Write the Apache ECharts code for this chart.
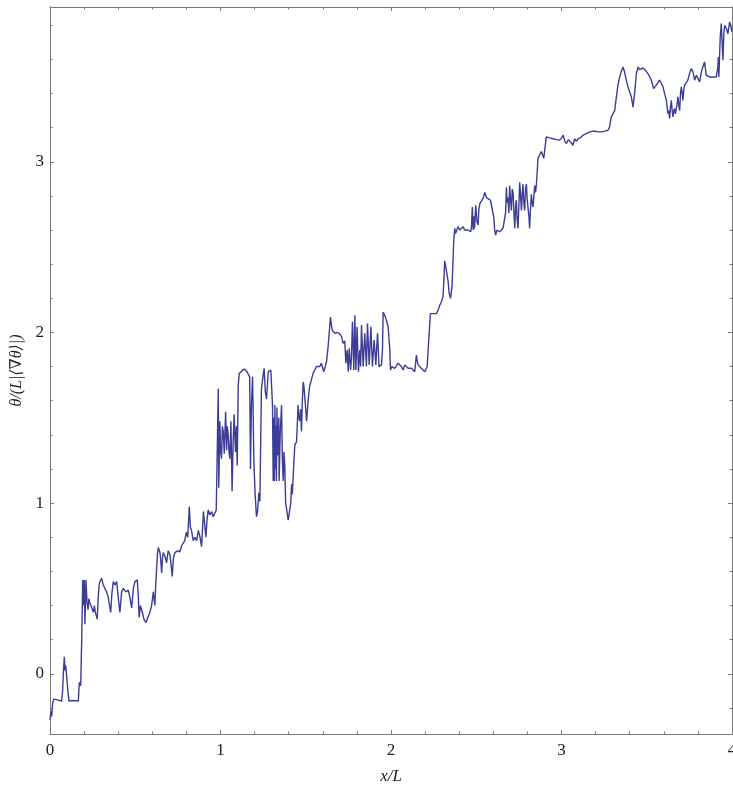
<!DOCTYPE html>
<html lang="en">
<head>
    <meta charset="UTF-8">
    <title>theta profile</title>
    <script src="https://cdn.jsdelivr.net/npm/echarts@6/dist/echarts.min.js"></script>
    <style>
        html, body { margin: 0; padding: 0; background: #fff; }
        #main { width: 733px; height: 787px; }
    </style>
</head>
<body>
    <div id="main"></div>
    <script>
        // trace, [x/L, theta/(L|<grad theta>|)], split in four stretches
        const segStart = [
            [0.000, -0.27], [0.006, -0.22], [0.010, -0.25], [0.016, -0.17], [0.022, -0.15],
            [0.035, -0.15], [0.050, -0.155], [0.068, -0.16], [0.074, -0.10], [0.078, 0.00],
            [0.084, 0.10], [0.088, 0.02], [0.092, 0.05], [0.098, 0.04], [0.104, -0.09],
            [0.111, -0.16], [0.136, -0.157], [0.166, -0.16], [0.172, -0.05], [0.180, -0.07],
            [0.186, 0.20], [0.192, 0.55], [0.197, 0.40], [0.201, 0.55], [0.205, 0.29],
            [0.211, 0.55], [0.217, 0.42], [0.223, 0.375], [0.228, 0.44], [0.234, 0.415],
            [0.244, 0.39], [0.254, 0.36], [0.260, 0.40], [0.266, 0.36], [0.277, 0.32],
            [0.283, 0.45], [0.289, 0.53], [0.303, 0.56], [0.312, 0.52], [0.322, 0.53],
            [0.332, 0.48], [0.342, 0.445], [0.349, 0.40], [0.356, 0.36], [0.363, 0.47],
            [0.371, 0.54], [0.381, 0.52], [0.391, 0.54], [0.400, 0.45], [0.410, 0.36],
            [0.420, 0.48], [0.430, 0.50], [0.445, 0.48], [0.459, 0.49], [0.468, 0.45],
            [0.479, 0.385], [0.489, 0.50], [0.498, 0.54], [0.512, 0.55], [0.518, 0.45],
            [0.523, 0.33], [0.530, 0.40], [0.537, 0.39], [0.544, 0.35], [0.551, 0.32],
            [0.563, 0.30], [0.576, 0.335], [0.586, 0.36], [0.596, 0.40], [0.606, 0.48],
            [0.615, 0.40], [0.620, 0.52], [0.625, 0.61], [0.630, 0.70], [0.635, 0.74],
            [0.645, 0.71], [0.650, 0.66], [0.655, 0.59], [0.660, 0.68], [0.664, 0.71],
            [0.674, 0.69], [0.684, 0.65], [0.693, 0.72], [0.703, 0.70], [0.710, 0.64],
            [0.717, 0.57], [0.724, 0.68], [0.733, 0.71], [0.748, 0.72], [0.762, 0.715],
            [0.772, 0.75], [0.780, 0.74], [0.790, 0.78], [0.800, 0.83], [0.808, 0.80],
            [0.817, 0.98], [0.823, 0.86], [0.830, 0.84], [0.840, 0.78], [0.850, 0.80],
            [0.860, 0.78], [0.870, 0.84], [0.880, 0.80], [0.889, 0.745], [0.900, 0.95],
            [0.907, 0.88], [0.914, 0.80], [0.921, 0.90], [0.928, 0.96], [0.938, 0.93],
            [0.948, 0.95], [0.957, 0.92], [0.967, 0.93], [0.975, 0.96]
        ]
        const segJumps = [
            [0.987, 1.67], [0.990, 1.09], [0.996, 1.48], [1.001, 1.30], [1.006, 1.26],
            [1.011, 1.45], [1.016, 1.42], [1.022, 1.29], [1.030, 1.535], [1.036, 1.31],
            [1.040, 1.45], [1.045, 1.40], [1.050, 1.30], [1.055, 1.26], [1.061, 1.48],
            [1.068, 1.07], [1.074, 1.35], [1.080, 1.52], [1.084, 1.40], [1.088, 1.30],
            [1.093, 1.45], [1.098, 1.22], [1.104, 1.69], [1.110, 1.76], [1.120, 1.77],
            [1.130, 1.78], [1.143, 1.785], [1.155, 1.77], [1.165, 1.77], [1.171, 1.74],
            [1.176, 1.20], [1.181, 1.56], [1.188, 1.74], [1.196, 1.24], [1.203, 1.05],
            [1.211, 0.92], [1.217, 0.95], [1.225, 1.06], [1.231, 1.01], [1.240, 1.67],
            [1.250, 1.75], [1.256, 1.79], [1.263, 1.65], [1.270, 1.61], [1.280, 1.77],
            [1.295, 1.78], [1.305, 1.575], [1.309, 1.13], [1.313, 1.50], [1.316, 1.13],
            [1.319, 1.575], [1.322, 1.20], [1.325, 1.45], [1.328, 1.13], [1.331, 1.56],
            [1.335, 1.30], [1.338, 1.28], [1.342, 1.50], [1.344, 1.13], [1.350, 1.40],
            [1.358, 1.575], [1.363, 1.25], [1.368, 1.13], [1.372, 1.30], [1.377, 1.22],
            [1.382, 1.00], [1.387, 0.97], [1.397, 0.90], [1.407, 0.91], [1.412, 1.00],
            [1.417, 1.11], [1.421, 1.05], [1.426, 1.05], [1.431, 1.25], [1.436, 1.34],
            [1.446, 1.36], [1.450, 1.45], [1.455, 1.575], [1.460, 1.50], [1.465, 1.48],
            [1.470, 1.55], [1.475, 1.42], [1.480, 1.60], [1.485, 1.71], [1.490, 1.68],
            [1.495, 1.61], [1.500, 1.55], [1.505, 1.48], [1.514, 1.60], [1.522, 1.68],
            [1.530, 1.71], [1.543, 1.76], [1.553, 1.78], [1.563, 1.80], [1.573, 1.81],
            [1.583, 1.80], [1.592, 1.82], [1.600, 1.79], [1.606, 1.77], [1.614, 1.80],
            [1.622, 1.83], [1.631, 1.915]
        ]
        const segMiddle = [
            [1.645, 2.09], [1.651, 2.04], [1.657, 2.01], [1.671, 1.995], [1.684, 2.00],
            [1.696, 1.995], [1.710, 1.975], [1.719, 1.936], [1.729, 1.95], [1.735, 1.82],
            [1.743, 1.897], [1.749, 1.77], [1.755, 1.907], [1.763, 1.78], [1.768, 1.85],
            [1.774, 2.063], [1.782, 1.78], [1.788, 2.10], [1.794, 1.78], [1.801, 2.033],
            [1.809, 1.77], [1.817, 1.897], [1.822, 1.80], [1.827, 2.043], [1.837, 1.80],
            [1.846, 1.995], [1.856, 1.80], [1.862, 2.053], [1.872, 1.81], [1.882, 2.033],
            [1.891, 1.80], [1.901, 1.956], [1.911, 1.81], [1.921, 1.995], [1.930, 1.80],
            [1.944, 1.81], [1.950, 1.90], [1.954, 2.12], [1.964, 2.10], [1.973, 2.07],
            [1.983, 2.035], [1.993, 1.90], [1.997, 1.78], [2.005, 1.80], [2.012, 1.81],
            [2.022, 1.79], [2.032, 1.80], [2.042, 1.82], [2.052, 1.81], [2.061, 1.80],
            [2.071, 1.78], [2.081, 1.81], [2.091, 1.80], [2.100, 1.79], [2.110, 1.80],
            [2.120, 1.79], [2.130, 1.78], [2.139, 1.77], [2.149, 1.868], [2.154, 1.83],
            [2.159, 1.81], [2.169, 1.80], [2.178, 1.79], [2.188, 1.785], [2.198, 1.77],
            [2.212, 1.80], [2.218, 1.90], [2.224, 1.995], [2.231, 2.11], [2.240, 2.10],
            [2.247, 2.11], [2.256, 2.12], [2.266, 2.11], [2.276, 2.13], [2.286, 2.16],
            [2.296, 2.18], [2.305, 2.21], [2.310, 2.30], [2.315, 2.42], [2.322, 2.38],
            [2.329, 2.385], [2.335, 2.30], [2.341, 2.23], [2.349, 2.20], [2.358, 2.27],
            [2.363, 2.40], [2.368, 2.54], [2.374, 2.61], [2.379, 2.58], [2.384, 2.59],
            [2.393, 2.62], [2.403, 2.60], [2.413, 2.61], [2.423, 2.62], [2.432, 2.60],
            [2.442, 2.61], [2.452, 2.60], [2.462, 2.61], [2.468, 2.59], [2.472, 2.62],
            [2.477, 2.735], [2.482, 2.60], [2.485, 2.68], [2.490, 2.61], [2.497, 2.745],
            [2.504, 2.65], [2.511, 2.63], [2.515, 2.72], [2.521, 2.755], [2.530, 2.76],
            [2.540, 2.785], [2.550, 2.82], [2.560, 2.79], [2.570, 2.80], [2.583, 2.775],
            [2.595, 2.715], [2.603, 2.675], [2.608, 2.60], [2.614, 2.57], [2.620, 2.60],
            [2.628, 2.61], [2.637, 2.59], [2.647, 2.59], [2.657, 2.61], [2.667, 2.60],
            [2.672, 2.70], [2.677, 2.85], [2.681, 2.76], [2.686, 2.79], [2.691, 2.70],
            [2.696, 2.86], [2.701, 2.78], [2.706, 2.715], [2.711, 2.84], [2.716, 2.82],
            [2.721, 2.70], [2.726, 2.61], [2.731, 2.74], [2.735, 2.775], [2.740, 2.66],
            [2.745, 2.61], [2.750, 2.75], [2.755, 2.88], [2.760, 2.80], [2.765, 2.715],
            [2.770, 2.82], [2.774, 2.87], [2.779, 2.76], [2.784, 2.715], [2.789, 2.84],
            [2.794, 2.87], [2.799, 2.78], [2.804, 2.725], [2.809, 2.68], [2.813, 2.61],
            [2.818, 2.72], [2.823, 2.81], [2.828, 2.76], [2.833, 2.735], [2.838, 2.80],
            [2.843, 2.86], [2.848, 2.82], [2.853, 2.87], [2.858, 2.95]
        ]
        const segEnd = [
            [2.862, 3.02], [2.872, 3.03], [2.882, 3.06], [2.889, 3.04], [2.896, 3.02],
            [2.903, 3.08], [2.911, 3.146], [2.930, 3.14], [2.950, 3.135], [2.970, 3.13],
            [2.989, 3.127], [3.000, 3.14], [3.009, 3.156], [3.020, 3.12], [3.029, 3.107],
            [3.040, 3.13], [3.048, 3.127], [3.058, 3.11], [3.067, 3.097], [3.077, 3.136],
            [3.087, 3.12], [3.097, 3.136], [3.110, 3.14], [3.126, 3.156], [3.145, 3.165],
            [3.165, 3.175], [3.180, 3.178], [3.195, 3.18], [3.215, 3.176], [3.234, 3.175],
            [3.255, 3.18], [3.273, 3.185], [3.282, 3.204], [3.292, 3.263], [3.302, 3.273],
            [3.312, 3.30], [3.322, 3.38], [3.331, 3.449], [3.341, 3.497], [3.351, 3.53],
            [3.361, 3.556], [3.370, 3.526], [3.380, 3.478], [3.390, 3.439], [3.400, 3.429],
            [3.410, 3.38], [3.419, 3.32], [3.429, 3.40], [3.439, 3.517], [3.449, 3.556],
            [3.458, 3.54], [3.468, 3.536], [3.478, 3.55], [3.488, 3.546], [3.497, 3.53],
            [3.507, 3.517], [3.517, 3.50], [3.527, 3.478], [3.540, 3.429], [3.556, 3.449],
            [3.565, 3.46], [3.575, 3.478], [3.585, 3.46], [3.595, 3.439], [3.605, 3.429],
            [3.615, 3.36], [3.624, 3.283], [3.629, 3.30], [3.634, 3.254], [3.639, 3.32],
            [3.644, 3.36], [3.649, 3.30], [3.654, 3.263], [3.659, 3.30], [3.664, 3.312],
            [3.668, 3.28], [3.673, 3.273], [3.678, 3.34], [3.683, 3.38], [3.688, 3.33],
            [3.693, 3.30], [3.698, 3.40], [3.703, 3.439], [3.708, 3.40], [3.712, 3.36],
            [3.717, 3.42], [3.722, 3.449], [3.732, 3.459], [3.741, 3.478], [3.751, 3.517],
            [3.761, 3.546], [3.771, 3.526], [3.781, 3.478], [3.791, 3.507], [3.800, 3.517],
            [3.810, 3.468], [3.820, 3.526], [3.829, 3.556], [3.839, 3.585], [3.849, 3.507],
            [3.859, 3.50], [3.869, 3.497], [3.888, 3.497], [3.908, 3.497], [3.913, 3.53],
            [3.917, 3.556], [3.920, 3.614], [3.923, 3.497], [3.928, 3.65], [3.931, 3.73],
            [3.937, 3.81], [3.942, 3.70], [3.947, 3.595], [3.952, 3.75], [3.957, 3.80],
            [3.962, 3.79], [3.967, 3.78], [3.976, 3.75], [3.986, 3.82], [3.992, 3.80],
            [4.000, 3.76]
        ]
        const xTicks = [0, 1, 2, 3, 4]
        const yTicks = [0, 1, 2, 3]
        const xRange = [0, 4]
        const yRange = [-0.353, 3.907]

        // minor ticks every 0.2 between the labelled ones
        let yMinor = []
        for (let k = -1; k <= 19; k++) {
            let v = Math.round(k * 2) / 10
            if (k % 5 != 0 && v > yRange[0] && v < yRange[1]) yMinor.push(v)
        }

        const frameColor = '#7a7a7a'
        const serif = "'Liberation Serif', 'DejaVu Serif', serif"

        let points = segStart.concat(segJumps, segMiddle, segEnd)

        function xAx(pos, labels) {
            return {
                type: 'value', position: pos, min: xRange[0], max: xRange[1], interval: 1,
                axisLine: { show: true, onZero: false, lineStyle: { color: frameColor, width: 1 } },
                axisTick: { show: true, inside: true, length: 4, customValues: xTicks, lineStyle: { color: frameColor } },
                minorTick: { show: true, splitNumber: 5, length: 2.5, lineStyle: { color: frameColor } },
                axisLabel: { show: labels, margin: 8, fontFamily: serif, fontSize: 17, color: '#222' },
                splitLine: { show: false }
            }
        }

        function yAx(pos, ticks, len, labels) {
            return {
                type: 'value', position: pos, min: yRange[0], max: yRange[1],
                axisLine: { show: true, onZero: false, lineStyle: { color: frameColor, width: 1 } },
                axisTick: { show: true, inside: true, length: len, customValues: ticks, lineStyle: { color: frameColor } },
                axisLabel: { show: labels, customValues: ticks, margin: 6, fontFamily: serif, fontSize: 17, color: '#222' },
                splitLine: { show: false }
            }
        }

        let bottomAxis = xAx('bottom', true)
        bottomAxis.name = 'x/L'
        bottomAxis.nameLocation = 'middle'
        bottomAxis.nameGap = 34
        bottomAxis.nameTextStyle = { fontFamily: serif, fontStyle: 'italic', fontSize: 17, color: '#222' }

        let leftAxis = yAx('left', yTicks, 4, true)
        leftAxis.name = 'θ/(L|⟨∇θ⟩|)'
        leftAxis.nameLocation = 'middle'
        leftAxis.nameGap = 24
        leftAxis.nameTextStyle = { fontFamily: serif, fontStyle: 'italic', fontSize: 16, color: '#222' }

        let chart = echarts.init(document.getElementById('main'))
        chart.setOption({
            animation: false,
            backgroundColor: '#fff',
            grid: { left: 50, right: 1, top: 7, bottom: 53, containLabel: false, outerBoundsMode: 'none' },
            xAxis: [bottomAxis, xAx('top', false)],
            yAxis: [
                leftAxis,
                yAx('left', yMinor, 2.5, false),
                yAx('right', yTicks, 4, false),
                yAx('right', yMinor, 2.5, false)
            ],
            series: [{
                type: 'line',
                xAxisIndex: 0,
                yAxisIndex: 0,
                data: points,
                showSymbol: false,
                lineStyle: { color: '#3b3d96', width: 1.4 }
            }]
        })
    </script>
</body>
</html>
